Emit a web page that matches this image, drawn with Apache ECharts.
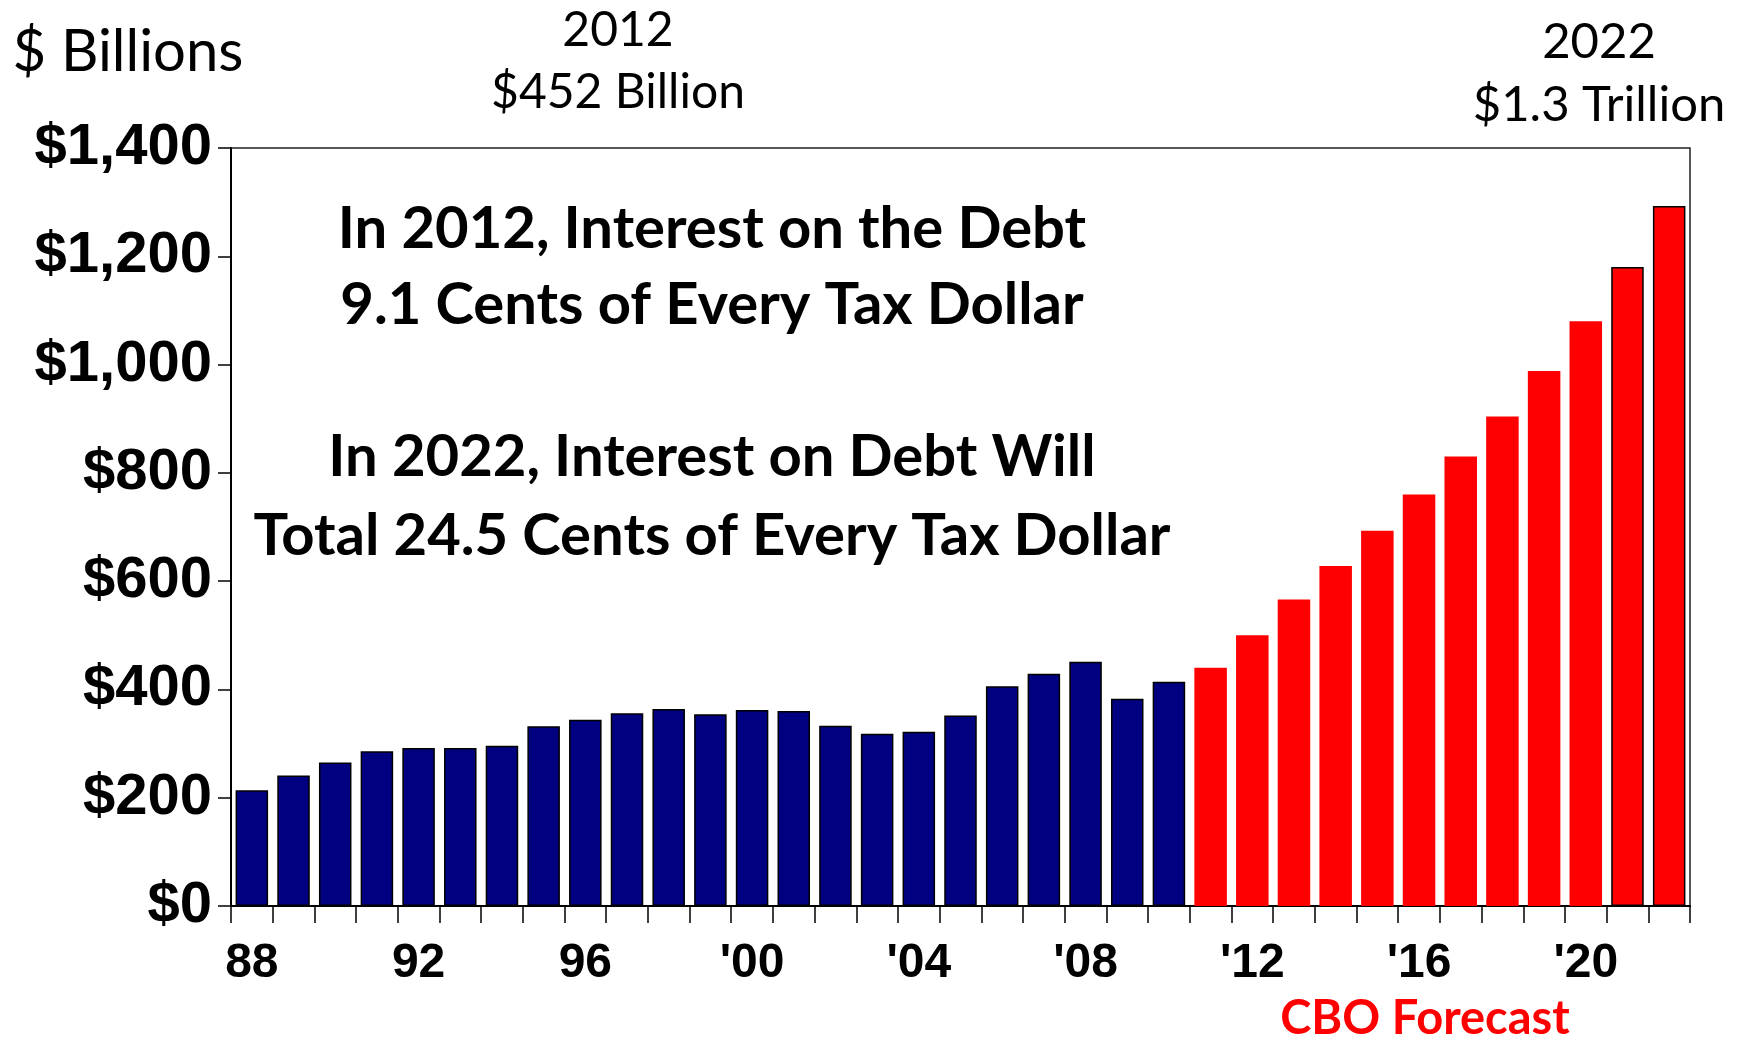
<!DOCTYPE html>
<html>
<head>
<meta charset="utf-8">
<script src="https://cdn.jsdelivr.net/npm/echarts@6/dist/echarts.min.js"></script>
<style>
  html, body { margin: 0; padding: 0; background: #fff; }
  #main { width: 1741px; height: 1040px; }
</style>
</head>
<body>
<div id="main"></div>
<script>
// fiscal years shown on the axis
var years = [];
for (var y = 1988; y <= 2022; y++) years.push(String(y));

// net interest, $ billions
var actualValues = [214, 241, 265, 286, 292, 292, 296, 332, 344, 356, 364, 354,
                    362, 360, 333, 318, 322, 352, 406, 429, 451, 383, 414];
var forecastValues = [440, 500, 566, 628, 693, 760, 830, 904, 988, 1080, 1180, 1293];
// forecast years drawn with an outline
var outlinedYears = ['2021', '2022'];

var yTicks = [0, 200, 400, 600, 800, 1000, 1200, 1400];

var unitLabel = '$ Billions';
var leftNote = ['2012', '$452 Billion'];
var rightNote = ['2022', '$1.3 Trillion'];
var headline = ['In 2012, Interest on the Debt', '9.1 Cents of Every Tax Dollar',
                'In 2022, Interest on Debt Will', 'Total 24.5 Cents of Every Tax Dollar'];
var forecastLabel = 'CBO Forecast';

var myChart = echarts.init(document.getElementById('main'));

var barData = [];
actualValues.forEach(function (v) {
    barData.push({ value: v, itemStyle: { color: '#000080', borderColor: '#000', borderWidth: 1.5 } });
});
forecastValues.forEach(function (v, i) {
    var yr = years[actualValues.length + i];
    var outlined = outlinedYears.indexOf(yr) >= 0;
    barData.push({ value: v, itemStyle: { color: '#ff0000', borderColor: '#000', borderWidth: outlined ? 1.5 : 0 } });
});

function fmtMoney(v) {
    return '$' + String(v).replace(/\B(?=(\d{3})+(?!\d))/g, ',');
}

var calibri = 'Lato, "Open Sans", sans-serif';

function note(text, x, y, size, weight, color) {
    return {
        type: 'text', x: x, y: y,
        style: {
            text: text, fill: color || '#000', font: (weight || 'normal') + ' ' + size + 'px ' + calibri,
            textAlign: 'center', textVerticalAlign: 'middle'
        }
    };
}

var option = {
    animation: false,
    grid: {
        left: 231, top: 148, width: 1459, height: 758,
        show: true, borderColor: '#222', borderWidth: 1.5, backgroundColor: 'transparent'
    },
    xAxis: {
        type: 'category',
        data: years,
        axisLine: { lineStyle: { color: '#000', width: 2 } },
        axisTick: { show: true, interval: 0, length: 17, lineStyle: { color: '#000', width: 1.5 } },
        axisLabel: {
            interval: 3, margin: 34,
            fontFamily: '"Liberation Sans", Arial, sans-serif', fontWeight: 'bold', fontSize: 48, color: '#000',
            formatter: function (v) {
                var n = Number(v);
                var two = v.slice(2);
                return n < 2000 ? two : "'" + two;
            }
        }
    },
    yAxis: {
        type: 'value',
        min: yTicks[0], max: yTicks[yTicks.length - 1], interval: yTicks[1] - yTicks[0],
        splitLine: { show: false },
        axisLine: { show: true, lineStyle: { color: '#000', width: 2 } },
        axisTick: { show: true, length: 13, lineStyle: { color: '#000', width: 1.5 } },
        axisLabel: {
            margin: 19,
            fontFamily: '"Liberation Sans", Arial, sans-serif', fontWeight: 'bold', fontSize: 58, color: '#000',
            formatter: fmtMoney
        }
    },
    series: [{
        type: 'bar',
        data: barData,
        barCategoryGap: '22%'
    }],
    graphic: [
        note(unitLabel, 128, 52, 58),
        note(leftNote[0], 618, 31, 48),
        note(leftNote[1], 618, 93, 48),
        note(rightNote[0], 1599, 42, 49),
        note(rightNote[1], 1599, 105, 49),
        note(headline[0], 712, 229, 58, 'bold'),
        note(headline[1], 712, 305, 58, 'bold'),
        note(headline[2], 712, 457, 58, 'bold'),
        note(headline[3], 712, 536, 58, 'bold'),
        note(forecastLabel, 1425, 1019, 47, 'bold', '#ff0000')
    ]
};

myChart.setOption(option);
</script>
</body>
</html>
